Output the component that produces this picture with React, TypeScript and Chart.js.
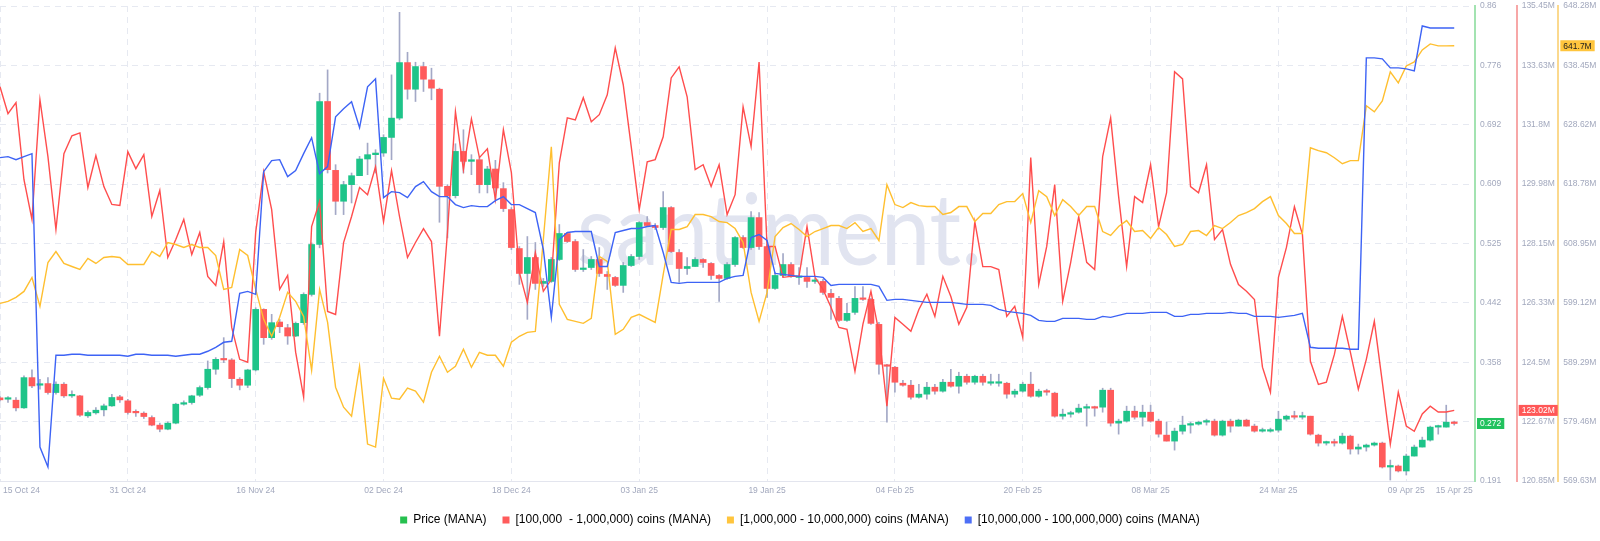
import React, { useEffect, useRef } from 'react';
import { Chart, registerables } from 'chart.js';

Chart.register(...registerables);

// ---- categories (day offsets from 15 Oct 24) and tick labels ----
const X_TICK_DAYS = [0, 16, 32, 48, 64, 80, 96, 112, 128, 144, 160, 176, 182];
const X_TICK_LABELS = ['15 Oct 24', '31 Oct 24', '16 Nov 24', '02 Dec 24', '18 Dec 24', '03 Jan 25', '19 Jan 25', '04 Feb 25', '20 Feb 25', '08 Mar 25', '24 Mar 25', '09 Apr 25', '15 Apr 25'];
const X_GRID_DAYS = [0, 16, 32, 48, 64, 80, 96, 112, 128, 144, 160, 176];
const X_MAX_DAY = 184.6;

const PRICE_RANGE = [0.191, 0.86];
const RED_RANGE = [120.85, 135.45];
const YELLOW_RANGE = [569.63, 648.28];
const BLUE_RANGE = [0, 100]; // hidden axis (relative level)

const PRICE_TICKS = ['0.191', '0.275', '0.358', '0.442', '0.525', '0.609', '0.692', '0.776', '0.86'];
const RED_TICKS = ['120.85M', '122.67M', '124.5M', '126.33M', '128.15M', '129.98M', '131.8M', '133.63M', '135.45M'];
const YELLOW_TICKS = ['569.63M', '579.46M', '589.29M', '599.12M', '608.95M', '618.78M', '628.62M', '638.45M', '648.28M'];

const LEGEND_LABELS = ['Price (MANA)', '[100,000  - 1,000,000) coins (MANA)', '[1,000,000 - 10,000,000) coins (MANA)', '[10,000,000 - 100,000,000) coins (MANA)'];
const WATERMARK = 'santiment.';

// ---- price candles (MANA, USD) ----
const OPEN = [
  0.3081, 0.3062, 0.3048, 0.2940, 0.3366, 0.3259, 0.3282, 0.3156, 0.3273, 0.3109,
  0.3109, 0.2828, 0.2870, 0.2912, 0.2968, 0.3095, 0.3039, 0.2875, 0.2865, 0.2804,
  0.2697, 0.2640, 0.2725, 0.2992, 0.3015, 0.3118, 0.3226, 0.3484, 0.3624, 0.3615,
  0.3343, 0.3259, 0.3474, 0.4327, 0.3929, 0.4149, 0.4069, 0.3952, 0.4140, 0.4538,
  0.5241, 0.7255, 0.6285, 0.5850, 0.6084, 0.6210, 0.6445, 0.6506, 0.6529, 0.6749,
  0.7021, 0.7803, 0.7428, 0.7747, 0.7560, 0.7428, 0.6060, 0.5929, 0.6552, 0.6412,
  0.6435, 0.6084, 0.6304, 0.6028, 0.5733, 0.5184, 0.4833, 0.5058, 0.4693, 0.4721,
  0.5030, 0.5396, 0.5283, 0.4889, 0.4917, 0.5030, 0.4819, 0.4777, 0.4665, 0.4945,
  0.5072, 0.5550, 0.5508, 0.5480, 0.5761, 0.5128, 0.4903, 0.4931, 0.5030, 0.4974,
  0.4805, 0.4763, 0.4959, 0.5339, 0.5198, 0.5620, 0.5212, 0.4622, 0.4805, 0.4959,
  0.4777, 0.4777, 0.4721, 0.4721, 0.4552, 0.4482, 0.4172, 0.4285, 0.4482, 0.4468,
  0.4116, 0.3540, 0.3512, 0.3287, 0.3259, 0.3090, 0.3133, 0.3231, 0.3175, 0.3301,
  0.3245, 0.3385, 0.3301, 0.3385, 0.3287, 0.3287, 0.3287, 0.3133, 0.3175, 0.3273,
  0.3104, 0.3175, 0.3147, 0.2823, 0.2851, 0.2879, 0.2936, 0.2950, 0.2950, 0.3189,
  0.2725, 0.2753, 0.2893, 0.2809, 0.2879, 0.2753, 0.2556, 0.2472, 0.2612, 0.2697,
  0.2711, 0.2739, 0.2753, 0.2556, 0.2753, 0.2683, 0.2767, 0.2683, 0.2612, 0.2612,
  0.2626, 0.2781, 0.2823, 0.2809, 0.2823, 0.2556, 0.2444, 0.2458, 0.2444, 0.2542,
  0.2360, 0.2388, 0.2416, 0.2444, 0.2107, 0.2121, 0.2051, 0.2261, 0.2388, 0.2486,
  0.2669, 0.2669, 0.2739,
];
const HIGH = [
  0.3100, 0.3100, 0.3086, 0.3390, 0.3474, 0.3343, 0.3366, 0.3306, 0.3296, 0.3179,
  0.3118, 0.2898, 0.2945, 0.2992, 0.3132, 0.3118, 0.3062, 0.2912, 0.2884, 0.2828,
  0.2725, 0.2743, 0.3006, 0.3039, 0.3118, 0.3249, 0.3601, 0.3648, 0.3929, 0.3634,
  0.3366, 0.3484, 0.4350, 0.4336, 0.4257, 0.4186, 0.4116, 0.4149, 0.4561, 0.5264,
  0.7372, 0.7700, 0.6365, 0.6131, 0.6248, 0.6482, 0.6669, 0.6576, 0.6787, 0.7630,
  0.8511, 0.7948, 0.7808, 0.7808, 0.7724, 0.7443, 0.6084, 0.6660, 0.6857, 0.6506,
  0.6459, 0.6342, 0.6426, 0.6112, 0.5761, 0.5212, 0.5353, 0.5269, 0.4763, 0.5058,
  0.5522, 0.5410, 0.5311, 0.5170, 0.5072, 0.5198, 0.4861, 0.4791, 0.4988, 0.5100,
  0.5564, 0.5635, 0.5536, 0.5986, 0.5775, 0.5170, 0.5058, 0.5058, 0.5044, 0.4988,
  0.4819, 0.4988, 0.5353, 0.5367, 0.5705, 0.5691, 0.5241, 0.4847, 0.5114, 0.4988,
  0.4917, 0.4917, 0.4763, 0.4749, 0.4608, 0.4510, 0.4412, 0.4650, 0.4650, 0.4482,
  0.4144, 0.3554, 0.3526, 0.3329, 0.3329, 0.3273, 0.3301, 0.3273, 0.3343, 0.3484,
  0.3442, 0.3414, 0.3400, 0.3414, 0.3414, 0.3414, 0.3301, 0.3203, 0.3301, 0.3442,
  0.3203, 0.3203, 0.3161, 0.2922, 0.2893, 0.2992, 0.2992, 0.2964, 0.3217, 0.3217,
  0.2781, 0.2964, 0.2964, 0.2978, 0.2978, 0.2781, 0.2739, 0.2655, 0.2823, 0.2739,
  0.2753, 0.2781, 0.2781, 0.2767, 0.2781, 0.2781, 0.2781, 0.2711, 0.2655, 0.2655,
  0.2893, 0.2837, 0.2893, 0.2879, 0.2823, 0.2570, 0.2472, 0.2500, 0.2584, 0.2556,
  0.2430, 0.2430, 0.2458, 0.2458, 0.2205, 0.2135, 0.2289, 0.2416, 0.2528, 0.2683,
  0.2697, 0.2978, 0.2753,
];
const LOW = [
  0.3034, 0.3016, 0.2898, 0.2931, 0.3226, 0.3203, 0.3132, 0.3132, 0.3086, 0.3086,
  0.2818, 0.2804, 0.2851, 0.2828, 0.2959, 0.3016, 0.2851, 0.2818, 0.2790, 0.2687,
  0.2603, 0.2631, 0.2715, 0.2978, 0.2992, 0.3100, 0.3203, 0.3413, 0.3577, 0.3226,
  0.3193, 0.3226, 0.3460, 0.3835, 0.3905, 0.3999, 0.3835, 0.3943, 0.4116, 0.4514,
  0.5194, 0.6248, 0.5662, 0.5662, 0.5826, 0.6210, 0.6224, 0.6248, 0.6482, 0.6435,
  0.6997, 0.7288, 0.7255, 0.7396, 0.7279, 0.5554, 0.5334, 0.5896, 0.6248, 0.6224,
  0.5967, 0.5967, 0.5873, 0.5705, 0.5170, 0.4679, 0.4187, 0.4608, 0.4650, 0.4707,
  0.5016, 0.5269, 0.4861, 0.4861, 0.4889, 0.4791, 0.4608, 0.4650, 0.4566, 0.4931,
  0.5030, 0.5494, 0.5452, 0.5452, 0.5128, 0.4707, 0.4819, 0.4931, 0.4917, 0.4749,
  0.4440, 0.4749, 0.4931, 0.5184, 0.5170, 0.5170, 0.4496, 0.4608, 0.4777, 0.4777,
  0.4679, 0.4636, 0.4693, 0.4538, 0.4187, 0.4158, 0.4158, 0.4257, 0.4454, 0.4116,
  0.3414, 0.2739, 0.3161, 0.3245, 0.3062, 0.3076, 0.3062, 0.3133, 0.3161, 0.3231,
  0.3147, 0.3273, 0.3273, 0.3259, 0.3259, 0.3245, 0.3076, 0.3090, 0.3161, 0.3090,
  0.3090, 0.3118, 0.2809, 0.2781, 0.2809, 0.2865, 0.2683, 0.2823, 0.2879, 0.2683,
  0.2570, 0.2739, 0.2781, 0.2683, 0.2739, 0.2528, 0.2472, 0.2345, 0.2570, 0.2584,
  0.2697, 0.2697, 0.2542, 0.2542, 0.2598, 0.2683, 0.2683, 0.2598, 0.2598, 0.2598,
  0.2598, 0.2753, 0.2781, 0.2781, 0.2556, 0.2402, 0.2416, 0.2402, 0.2430, 0.2289,
  0.2289, 0.2331, 0.2402, 0.2093, 0.1924, 0.2037, 0.1994, 0.2261, 0.2388, 0.2472,
  0.2570, 0.2669, 0.2697,
];
const CLOSE = [
  0.3053, 0.3067, 0.2940, 0.3366, 0.3249, 0.3273, 0.3156, 0.3273, 0.3109, 0.3114,
  0.2837, 0.2875, 0.2907, 0.2968, 0.3086, 0.3053, 0.2875, 0.2870, 0.2818, 0.2697,
  0.2640, 0.2725, 0.2992, 0.3006, 0.3109, 0.3226, 0.3484, 0.3624, 0.3615, 0.3352,
  0.3259, 0.3474, 0.4327, 0.3929, 0.4140, 0.4083, 0.3952, 0.4130, 0.4538, 0.5241,
  0.7255, 0.6295, 0.5850, 0.6084, 0.6210, 0.6445, 0.6506, 0.6529, 0.6749, 0.7021,
  0.7803, 0.7428, 0.7747, 0.7569, 0.7443, 0.6060, 0.5929, 0.6552, 0.6412, 0.6435,
  0.6084, 0.6304, 0.6037, 0.5747, 0.5198, 0.4833, 0.5058, 0.4693, 0.4721, 0.5030,
  0.5396, 0.5283, 0.4889, 0.4903, 0.5030, 0.4833, 0.4791, 0.4665, 0.4945, 0.5072,
  0.5550, 0.5508, 0.5480, 0.5761, 0.5142, 0.4903, 0.4931, 0.5030, 0.4988, 0.4805,
  0.4763, 0.4959, 0.5339, 0.5198, 0.5620, 0.5212, 0.4622, 0.4805, 0.4959, 0.4791,
  0.4791, 0.4721, 0.4735, 0.4566, 0.4496, 0.4172, 0.4271, 0.4482, 0.4468, 0.4130,
  0.3554, 0.3526, 0.3301, 0.3259, 0.3090, 0.3133, 0.3231, 0.3175, 0.3301, 0.3245,
  0.3385, 0.3301, 0.3385, 0.3301, 0.3301, 0.3287, 0.3133, 0.3175, 0.3273, 0.3104,
  0.3175, 0.3161, 0.2823, 0.2851, 0.2865, 0.2936, 0.2950, 0.2936, 0.3189, 0.2725,
  0.2753, 0.2893, 0.2809, 0.2879, 0.2753, 0.2570, 0.2472, 0.2612, 0.2697, 0.2711,
  0.2739, 0.2753, 0.2556, 0.2753, 0.2683, 0.2767, 0.2683, 0.2612, 0.2612, 0.2626,
  0.2781, 0.2823, 0.2809, 0.2823, 0.2570, 0.2444, 0.2458, 0.2444, 0.2542, 0.2360,
  0.2388, 0.2416, 0.2444, 0.2107, 0.2121, 0.2051, 0.2261, 0.2388, 0.2486, 0.2669,
  0.2683, 0.2739, 0.2720,
];

// ---- holder balances ----
const RED_SERIES = [ // [100,000 - 1,000,000) coins, millions
  132.97, 132.14, 132.48, 130.11, 128.89, 132.57, 130.82, 128.58, 130.91, 131.46,
  131.55, 129.87, 130.85, 129.90, 129.35, 129.32, 130.97, 130.45, 130.88, 128.98,
  129.78, 127.72, 128.27, 128.89, 127.81, 128.49, 127.14, 126.86, 128.21, 125.57,
  124.59, 124.50, 128.49, 130.36, 129.19, 126.74, 127.17, 124.81, 123.43, 128.67,
  129.44, 126.06, 125.97, 128.18, 128.98, 129.87, 129.65, 130.51, 128.82, 130.39,
  128.98, 127.72, 128.18, 128.61, 128.21, 125.30, 128.49, 132.20, 130.42, 131.98,
  130.79, 131.06, 129.50, 131.65, 130.33, 127.26, 126.34, 127.87, 126.68, 127.05,
  130.63, 132.01, 131.95, 132.63, 131.89, 132.11, 132.72, 134.16, 133.03, 131.13,
  129.19, 130.66, 130.73, 131.43, 133.24, 133.58, 132.66, 130.42, 130.57, 129.90,
  130.57, 129.04, 129.65, 132.35, 131.13, 133.73, 128.06, 128.06, 127.11, 127.14,
  127.14, 128.67, 127.11, 126.74, 126.19, 125.57, 125.51, 124.22, 125.67, 126.68,
  125.42, 123.15, 125.88, 125.67, 125.45, 126.12, 126.59, 125.91, 127.14, 126.52,
  125.67, 126.19, 128.82, 127.44, 127.44, 127.35, 125.91, 126.22, 125.27, 130.79,
  126.89, 128.06, 129.96, 126.37, 127.57, 128.98, 127.57, 127.35, 130.82, 132.01,
  129.59, 127.44, 129.59, 129.41, 130.57, 128.67, 129.71, 133.43, 133.21, 129.90,
  129.71, 130.57, 128.27, 128.58, 127.51, 126.89, 126.68, 126.43, 124.35, 123.58,
  127.11, 128.03, 129.28, 128.43, 124.53, 123.82, 123.89, 124.74, 125.91, 124.81,
  123.67, 124.59, 125.76, 123.89, 121.98, 123.58, 122.54, 122.38, 122.91, 123.15,
  122.97, 122.97, 123.02,
];
const YELLOW_SERIES = [ // [1,000,000 - 10,000,000) coins, millions
  599.04, 599.37, 600.03, 601.02, 603.33, 598.54, 605.81, 607.63, 605.65, 605.15,
  604.66, 606.48, 605.65, 606.64, 606.81, 606.64, 605.48, 605.48, 605.48, 607.63,
  606.81, 609.12, 608.79, 608.29, 608.79, 608.29, 608.29, 606.97, 601.35, 601.68,
  607.96, 606.97, 601.35, 596.40, 593.59, 596.73, 600.86, 599.37, 596.89, 587.97,
  601.35, 595.90, 585.16, 581.86, 580.37, 588.63, 575.74, 575.25, 586.65, 583.34,
  583.18, 585.00, 584.50, 582.68, 587.64, 590.28, 587.64, 588.63, 591.44, 588.46,
  590.94, 590.45, 590.45, 588.63, 592.60, 593.59, 594.25, 594.41, 609.62, 624.98,
  598.87, 596.40, 596.07, 595.74, 596.56, 606.81, 605.98, 593.92, 594.75, 596.73,
  597.22, 596.56, 595.90, 603.80, 611.27, 611.27, 611.76, 613.75, 613.75, 613.42,
  612.59, 612.42, 611.43, 609.12, 600.86, 596.07, 600.86, 610.11, 611.60, 612.26,
  611.27, 610.11, 610.94, 611.43, 611.93, 611.93, 611.43, 612.42, 610.94, 611.43,
  609.45, 618.70, 615.40, 614.90, 615.73, 615.23, 615.07, 615.07, 613.75, 614.08,
  615.07, 615.07, 612.59, 613.91, 613.91, 615.40, 615.89, 615.89, 617.22, 612.42,
  617.71, 616.72, 613.58, 616.22, 615.07, 613.58, 615.07, 615.07, 610.94, 610.28,
  611.76, 612.75, 610.94, 611.10, 609.78, 611.60, 610.44, 608.46, 608.79, 610.94,
  611.10, 610.28, 611.93, 611.43, 612.42, 613.58, 614.08, 614.74, 615.89, 616.72,
  613.58, 612.26, 610.61, 610.61, 624.81, 624.32, 623.99, 623.16, 622.17, 622.67,
  622.67, 631.76, 630.76, 632.58, 637.37, 635.55, 638.36, 639.03, 641.01, 642.00,
  641.67, 641.67, 641.70,
];
const BLUE_SERIES = [ // [10,000,000 - 100,000,000) coins, relative level (axis hidden)
  68.07, 68.28, 67.65, 68.28, 68.91, 7.14, 2.94, 26.47, 26.47, 26.68,
  26.68, 26.47, 26.47, 26.47, 26.47, 26.47, 26.26, 26.68, 26.68, 26.47,
  26.47, 26.47, 26.26, 26.47, 26.68, 26.68, 27.31, 28.15, 29.20, 29.41,
  39.50, 39.92, 39.29, 65.13, 67.44, 67.65, 64.08, 65.34, 68.91, 72.27,
  64.71, 66.18, 76.68, 78.36, 79.83, 74.37, 82.98, 84.66, 59.66, 60.92,
  60.71, 59.66, 61.97, 63.03, 60.92, 59.87, 59.87, 58.19, 57.56, 57.98,
  57.77, 57.77, 59.03, 59.87, 58.19, 58.19, 57.35, 56.51, 48.74, 34.45,
  50.84, 52.31, 52.52, 52.52, 52.52, 45.17, 45.17, 52.31, 52.73, 53.15,
  53.15, 53.57, 53.78, 48.11, 41.81, 41.60, 41.81, 41.81, 41.81, 41.81,
  41.81, 42.65, 43.07, 43.28, 51.26, 51.89, 50.63, 43.70, 43.49, 43.28,
  43.07, 43.07, 43.07, 42.86, 41.18, 41.39, 41.39, 41.39, 41.39, 41.39,
  40.97, 38.03, 38.24, 38.24, 38.03, 37.82, 37.61, 37.61, 37.61, 37.61,
  37.39, 37.18, 37.18, 37.18, 36.97, 36.13, 35.71, 35.50, 35.29, 34.87,
  33.82, 33.61, 33.61, 34.24, 34.24, 34.24, 34.03, 34.03, 34.66, 34.45,
  34.87, 35.29, 35.29, 35.29, 35.50, 35.50, 35.50, 34.66, 34.66, 35.08,
  35.08, 35.29, 35.29, 35.29, 35.50, 35.29, 35.29, 34.66, 34.66, 34.66,
  34.45, 34.66, 34.87, 35.29, 28.15, 27.94, 27.94, 27.94, 27.94, 27.73,
  27.73, 89.08, 89.08, 88.87, 86.97, 86.97, 86.76, 86.34, 95.80, 95.38,
  95.38, 95.38, 95.38,
];

// ---- styles ----
const UP = '#1ec489';
const DOWN = '#ff5b5b';
const WICK = '#a3a8c6';
const RED_LINE = '#ff4d4d';
const YELLOW_LINE = '#ffbf2f';
const BLUE_LINE = '#3d63f5';
const LEGEND_COLORS = ['#26c04f', '#ff5b5b', '#ffc53d', '#4d6ff6'];
const GRID = '#e6e9f1';
const TICK_COLOR = '#a2a8bd';
const FONT_FAMILY = '"Liberation Sans", Arial, sans-serif';
const TICK_FONT = { family: FONT_FAMILY, size: 8.5 };
const AXIS_W = 125 / 3;

const evenTicks = (range: number[], n: number) =>
  Array.from({ length: n }, (_, i) => ({ value: range[0] + ((range[1] - range[0]) * i) / (n - 1) }));

const yAxis = (range: number[], labels: string[], borderColor: string, grid: boolean) => ({
  type: 'linear',
  position: 'right',
  min: range[0],
  max: range[1],
  afterBuildTicks: (s: any) => { s.ticks = evenTicks(range, labels.length); },
  afterFit: (s: any) => { s.width = AXIS_W; s.paddingTop = 0; s.paddingBottom = 0; },
  ticks: { callback: (_v: any, i: number) => labels[i], padding: 5, color: TICK_COLOR, font: TICK_FONT, autoSkip: false },
  grid: { display: grid, color: GRID, lineWidth: 1, drawTicks: false },
  border: { display: true, color: borderColor, width: 2, dash: [6, 5] },
});

const fmtM = (v: number) => v.toFixed(2).replace(/\.?0+$/, '') + 'M';

const overlayPlugin = {
  id: 'overlay',
  beforeDatasetsDraw(chart: any) {
    const { ctx, chartArea } = chart;
    ctx.save();
    ctx.font = '400 98px Lato';
    ctx.fillStyle = '#e1e4f0';
    ctx.textBaseline = 'alphabetic';
    ctx.textAlign = 'left';
    ctx.fillText(WATERMARK, chartArea.left + 577, chartArea.top + 259, 405);
    ctx.restore();
  },
  afterDraw(chart: any) {
    const { ctx, chartArea, scales } = chart;
    ctx.save();
    // x tick labels
    ctx.font = `${TICK_FONT.size}px ${FONT_FAMILY}`;
    ctx.fillStyle = TICK_COLOR;
    ctx.textBaseline = 'middle';
    X_TICK_DAYS.forEach((d, i) => {
      const px = scales.x.getPixelForValue(d);
      ctx.textAlign = i === 0 ? 'left' : 'center';
      ctx.fillText(X_TICK_LABELS[i], i === 0 ? px + 3 : px, chartArea.bottom + 10);
    });
    // last value badges
    const badge = (scale: any, value: number, text: string, bg: string, fg: string) => {
      const y = scale.getPixelForValue(value);
      ctx.font = `${TICK_FONT.size}px ${FONT_FAMILY}`;
      const w = ctx.measureText(text).width + 6;
      const x = scale.left + 2;
      ctx.fillStyle = bg;
      ctx.fillRect(x, y - 5.5, w, 11);
      ctx.fillStyle = fg;
      ctx.textAlign = 'left';
      ctx.textBaseline = 'middle';
      ctx.fillText(text, x + 3, y + 0.5);
    };
    const last = CLOSE.length - 1;
    badge(scales.yPrice, CLOSE[last], CLOSE[last].toFixed(3), '#22c25e', '#ffffff');
    badge(scales.yRed, RED_SERIES[last], fmtM(RED_SERIES[last]), '#ff5757', '#ffffff');
    badge(scales.yYellow, YELLOW_SERIES[last], fmtM(YELLOW_SERIES[last]), '#ffc53d', '#1d1d1d');
    ctx.restore();
  },
};

export default function App() {
  const ref = useRef<HTMLCanvasElement>(null);
  useEffect(() => {
    document.body.style.margin = '0';
    const canvas = ref.current!;
    const days = OPEN.map((_, i) => i);
    const bodyColors = days.map((i) => (CLOSE[i] >= OPEN[i] ? UP : DOWN));
    const chart = new Chart(canvas, {
      type: 'bar',
      data: {
        datasets: [
          {
            type: 'line', label: LEGEND_LABELS[3], yAxisID: 'yBlue', order: 1,
            data: days.map((i) => ({ x: i, y: BLUE_SERIES[i] })),
            borderColor: BLUE_LINE, borderWidth: 1.4, pointRadius: 0, tension: 0,
          },
          {
            type: 'line', label: LEGEND_LABELS[2], yAxisID: 'yYellow', order: 2,
            data: days.map((i) => ({ x: i, y: YELLOW_SERIES[i] })),
            borderColor: YELLOW_LINE, borderWidth: 1.4, pointRadius: 0, tension: 0,
          },
          {
            type: 'line', label: LEGEND_LABELS[1], yAxisID: 'yRed', order: 3,
            data: days.map((i) => ({ x: i, y: RED_SERIES[i] })),
            borderColor: RED_LINE, borderWidth: 1.4, pointRadius: 0, tension: 0,
          },
          {
            type: 'bar', label: 'body', yAxisID: 'yPrice', order: 4,
            data: days.map((i) => ({ x: i, y: [OPEN[i], CLOSE[i]] })),
            backgroundColor: bodyColors, borderWidth: 0, barThickness: 6, minBarLength: 1.5, grouped: false,
          },
          {
            type: 'bar', label: 'wick', yAxisID: 'yPrice', order: 5,
            data: days.map((i) => ({ x: i, y: [LOW[i], HIGH[i]] })),
            backgroundColor: WICK, borderWidth: 0, barThickness: 1, grouped: false,
          },
        ] as any,
      },
      options: {
        responsive: false,
        animation: false,
        devicePixelRatio: 1,
        events: [],
        layout: { padding: { top: 6, left: 0, right: 0, bottom: 5 } },
        scales: {
          x: {
            type: 'linear', min: 0, max: X_MAX_DAY, offset: false,
            afterBuildTicks: (s: any) => { s.ticks = X_GRID_DAYS.map((v) => ({ value: v })); },
            afterFit: (s: any) => { s.height = 17; s.paddingLeft = 0; s.paddingRight = 0; },
            ticks: { display: false },
            grid: { color: GRID, drawTicks: false, offset: false },
            border: { display: true, color: '#e3e5ee', width: 1, dash: [6, 5] },
          },
          yPrice: yAxis(PRICE_RANGE, PRICE_TICKS, '#a3e3b1', true),
          yRed: yAxis(RED_RANGE, RED_TICKS, '#f7a7a7', false),
          yYellow: yAxis(YELLOW_RANGE, YELLOW_TICKS, '#fbd98e', false),
          yBlue: { type: 'linear', display: false, min: BLUE_RANGE[0], max: BLUE_RANGE[1] },
        } as any,
        plugins: {
          tooltip: { enabled: false },
          legend: {
            position: 'bottom',
            onClick: () => {},
            labels: {
              boxWidth: 7, boxHeight: 7, padding: 16, color: '#454a5a',
              font: { family: FONT_FAMILY, size: 12 },
              generateLabels: () => LEGEND_LABELS.map((text, i) => ({
                text, fillStyle: LEGEND_COLORS[i], strokeStyle: LEGEND_COLORS[i], lineWidth: 0, hidden: false, datasetIndex: i,
              })),
            },
          },
        },
      } as any,
      plugins: [overlayPlugin],
    });
    return () => chart.destroy();
  }, []);
  return (
    <div style={{ width: 1600, height: 541 }}>
      <canvas ref={ref} width={1600} height={541} style={{ display: 'block' }} />
    </div>
  );
}
